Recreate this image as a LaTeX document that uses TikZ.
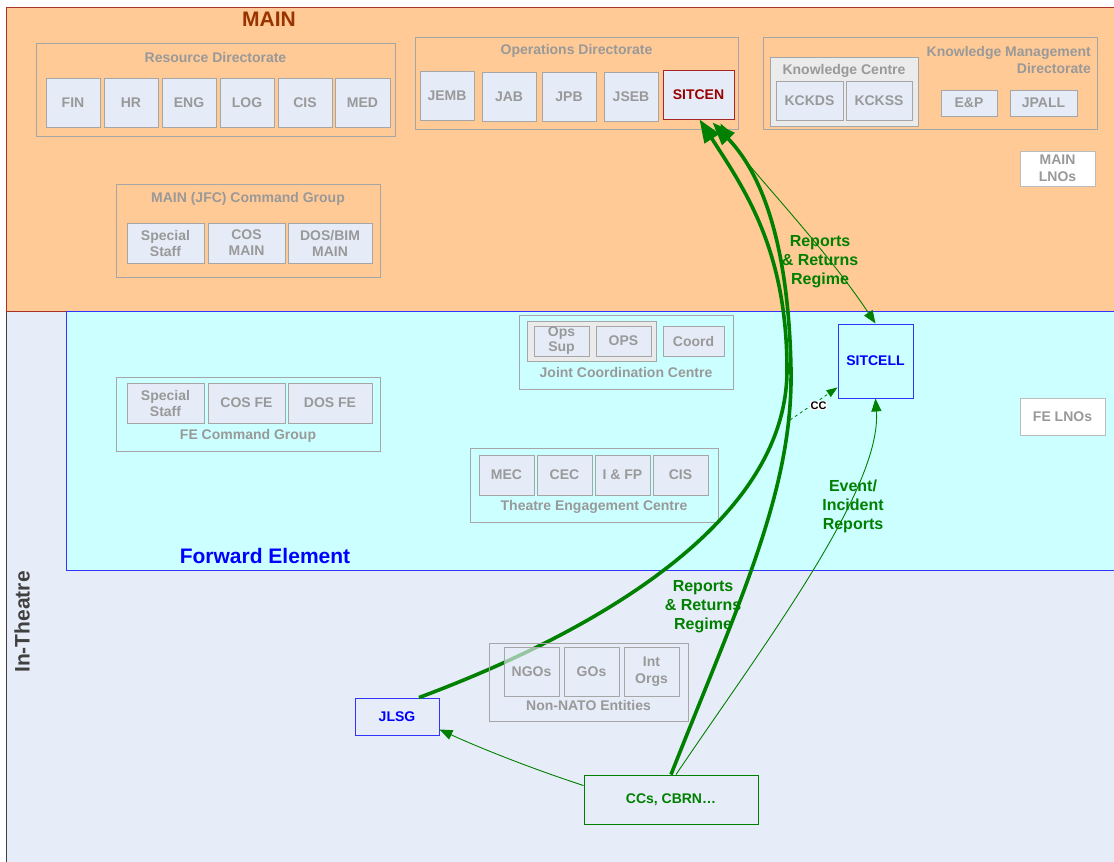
\documentclass[tikz,border=0pt]{standalone}
\usepackage{fontspec}
\setmainfont{Liberation Sans}
\usetikzlibrary{arrows.meta}

\definecolor{mainfill}{HTML}{FFCA96}
\definecolor{mainedge}{HTML}{A83226}
\definecolor{fefill}{HTML}{CCFFFF}
\definecolor{itfill}{HTML}{E7EDF8}
\definecolor{itedge}{HTML}{404040}
\definecolor{unitfill}{HTML}{E6ECF7}
\definecolor{unitedge}{HTML}{A6A6A6}
\definecolor{kcfill}{HTML}{EBEBEB}
\definecolor{greytxt}{HTML}{999999}
\definecolor{flow}{HTML}{008000}
\definecolor{maintitle}{HTML}{993300}
\definecolor{sitred}{HTML}{990000}
\definecolor{feblue}{HTML}{0000FF}

\begin{document}
\begin{tikzpicture}[x=1pt,y=-1pt,
  f14/.style={font=\bfseries\fontsize{14}{16}\selectfont},
  unit/.style={draw=unitedge, fill=unitfill, text=greytxt, f14, align=center, inner sep=0pt, line width=0.9pt},
  grp/.style={draw=unitedge, line width=0.9pt, inner sep=0pt},
  grptitle/.style={text=greytxt, f14, inner sep=0pt},
  lno/.style={unit, fill=white, draw=unitedge!75},
  hq/.style={draw=feblue!80, line width=0.9pt, text=feblue, f14, inner sep=0pt},
  flowlab/.style={text=flow, font=\bfseries\fontsize{16}{19}\selectfont, align=center, inner sep=0pt},
  bigflow/.style={draw=flow, line width=3.6pt, -{Triangle[length=23pt 0 0,width=17pt 0 0]}},
  thintip/.tip={Triangle[length=13pt 0 0,width=10pt 0 0]},
  thinflow/.style={draw=flow, line width=0.9pt, -thintip},
  region/.style={font=\bfseries\fontsize{21}{24}\selectfont, inner sep=0pt}]

\useasboundingbox (0,0) rectangle (1114,862);

% ---- regions ----
\fill[itfill] (6,311) rectangle (1120,870);
\draw[itedge, line width=1pt] (6,311) -- (6,870);
\draw[mainedge, fill=mainfill, line width=1pt] (6,7) rectangle (1120,311);
\draw[feblue!80, fill=fefill, line width=1pt] (66,311) rectangle (1120,570);

\node[region, text=maintitle] (maintitle) at (269,19) {MAIN};
\node[region, text=feblue] (fetitle) at (265,556) {Forward Element};
\node[region, text=itedge, rotate=90] (ittitle) at (22,622) {In-Theatre};

% ---- Resource Directorate ----
\node[grp, minimum width=359, minimum height=93] (resdir) at (215.5,89.5) {};
\node[grptitle] (resdirt) at (215.5,57) {Resource Directorate};
\node[unit, minimum width=54, minimum height=49] (fin) at (73,102.5) {FIN};
\node[unit, minimum width=54, minimum height=49] (hr) at (131,102.5) {HR};
\node[unit, minimum width=54, minimum height=49] (eng) at (189,102.5) {ENG};
\node[unit, minimum width=54, minimum height=49] (log) at (247,102.5) {LOG};
\node[unit, minimum width=54, minimum height=49] (cisr) at (305,102.5) {CIS};
\node[unit, minimum width=55, minimum height=49] (med) at (362.5,102.5) {MED};

% ---- MAIN (JFC) Command Group ----
\node[grp, minimum width=264, minimum height=93] (jfc) at (248,230.5) {};
\node[grptitle] (jfct) at (248,199) {MAIN (JFC) Command Group};
\node[unit, minimum width=77, minimum height=40] (spm) at (165.5,243) {Special\\Staff};
\node[unit, minimum width=77, minimum height=40] (cosm) at (246.5,243) {COS\\MAIN};
\node[unit, minimum width=84, minimum height=40] (dosm) at (330,243) {DOS/BIM\\MAIN};

% ---- Operations Directorate ----
\node[grp, minimum width=323, minimum height=92] (opsdir) at (576.5,83) {};
\node[grptitle] (opsdirt) at (576.5,51) {Operations Directorate};
\node[unit, minimum width=54, minimum height=49] (jemb) at (447,95.5) {JEMB};
\node[unit, minimum width=54, minimum height=49] (jab) at (509,96.5) {JAB};
\node[unit, minimum width=54, minimum height=49] (jpb) at (569,96.5) {JPB};
\node[unit, minimum width=54, minimum height=49] (jseb) at (631,96.5) {JSEB};
\node[unit, draw=sitred!85, text=sitred, minimum width=71, minimum height=49] (sitcen) at (698.5,94.5) {SITCEN};

% ---- Knowledge Management Directorate ----
\node[grp, minimum width=334, minimum height=92] (kmdir) at (930,83) {};
\node[grptitle, font=\bfseries\fontsize{14}{17}\selectfont, align=right, anchor=east] (kmdirt) at (1091,59.5) {Knowledge Management\\Directorate};
\node[grp, fill=kcfill, minimum width=148, minimum height=69] (kc) at (844,91.5) {};
\node[grptitle] (kct) at (844,71) {Knowledge Centre};
\node[unit, minimum width=67, minimum height=39] (kckds) at (809.5,100.5) {KCKDS};
\node[unit, minimum width=66, minimum height=39] (kckss) at (879,100.5) {KCKSS};
\node[unit, minimum width=56, minimum height=26] (ep) at (969,103) {E\&P};
\node[unit, minimum width=67, minimum height=26] (jpall) at (1043.5,103) {JPALL};

\node[lno, font=\bfseries\fontsize{14}{17}\selectfont, minimum width=75, minimum height=35] (mainlno) at (1057.5,168.5) {MAIN\\LNOs};

% ---- Joint Coordination Centre ----
\node[grp, minimum width=214, minimum height=74] (jcc) at (626,352) {};
\node[grp, fill=kcfill, minimum width=129, minimum height=40] (opsgrp) at (591.5,341) {};
\node[unit, font=\bfseries\fontsize{14}{15}\selectfont, minimum width=55, minimum height=30] (opssup) at (561.5,341) {Ops\\Sup};
\node[unit, minimum width=55, minimum height=30] (ops) at (623.5,341) {OPS};
\node[unit, minimum width=61, minimum height=30] (coord) at (693.5,341) {Coord};
\node[grptitle] (jcct) at (626,372) {Joint Coordination Centre};

% ---- FE Command Group ----
\node[grp, minimum width=264, minimum height=74] (fecg) at (248,414) {};
\node[unit, minimum width=77, minimum height=40] (spf) at (165.5,403) {Special\\Staff};
\node[unit, minimum width=77, minimum height=40] (cosf) at (246.5,403) {COS FE};
\node[unit, minimum width=84, minimum height=40] (dosf) at (330,403) {DOS FE};
\node[grptitle] (fecgt) at (248,436) {FE Command Group};

% ---- Theatre Engagement Centre ----
\node[grp, minimum width=248, minimum height=74] (tec) at (594,485) {};
\node[unit, minimum width=55, minimum height=40] (mec) at (506.5,475) {MEC};
\node[unit, minimum width=55, minimum height=40] (cec) at (564.5,475) {CEC};
\node[unit, minimum width=55, minimum height=40] (ifp) at (622.5,475) {I \& FP};
\node[unit, minimum width=55, minimum height=40] (cist) at (680.5,475) {CIS};
\node[grptitle] (tect) at (594,507) {Theatre Engagement Centre};

% ---- SITCELL, LNOs ----
\node[hq, minimum width=75, minimum height=74] (sitcell) at (875.5,361) {SITCELL};
\node[lno, minimum width=85, minimum height=37] (felno) at (1062.5,416.5) {FE LNOs};

% ---- JLSG and contributors ----
\node[hq, minimum width=84, minimum height=37] (jlsg) at (397,716.5) {JLSG};
\node[draw=flow, line width=0.9pt, text=flow, f14, inner sep=0pt, minimum width=174, minimum height=49] (ccs) at (671,799.5) {CCs, CBRN\ldots};

% ---- flow labels ----
\node[flowlab] (rrr1) at (820,262) {Reports\\\& Returns\\Regime};
\node[flowlab] (rrr2) at (703,607) {Reports\\\& Returns\\Regime};
\node[flowlab] (eir) at (853,506) {Event/\\Incident\\Reports};

% ---- reporting flows ----
\draw[bigflow] ([xshift=22pt]jlsg.north)
  .. controls (600,630) and (787,520) .. (787,370)
  .. controls (787,250) and (745,190) .. ([xshift=1pt]sitcen.south);
\draw[bigflow] (ccs.north)
  .. controls (740,600) and (793,490) .. (791,370)
  .. controls (789,260) and (768,180) .. ([xshift=14pt,yshift=-3pt]sitcen.south);
\draw[thinflow] ([xshift=5pt]ccs.north)
  .. controls (760,650) and (882,490) .. (sitcell.south);
\draw[thinflow] ([yshift=-11pt]ccs.north west)
  .. controls (530,768) and (480,748) .. ([yshift=6pt]jlsg.south east);
\draw[thinflow, thintip-thintip]
  ([xshift=22pt,yshift=-4pt]sitcen.south) .. controls (740,160) and (820,240) .. (sitcell.north);

\coordinate (ccfoot) at (790,420);
\draw[draw=flow, line width=0.8pt, dashed, -{Triangle[length=11pt 0 0,width=8pt 0 0]}]
  (ccfoot) -- ([yshift=11pt]sitcell.south west)
  node[pos=0.6, yshift=-5pt, fill=white, inner sep=1pt, text=black, font=\bfseries\fontsize{11}{12}\selectfont] (cclab) {CC};

% ---- Non-NATO Entities (semi-transparent over the flow) ----
\node[grp, minimum width=199, minimum height=78] (nne) at (588.5,682) {};
\node[unit, fill=itfill, fill opacity=0.65, text opacity=1, minimum width=55, minimum height=49] (ngo) at (531.5,671.5) {NGOs};
\node[unit, fill=itfill, fill opacity=0.65, text opacity=1, minimum width=55, minimum height=49] (gos) at (591.5,671.5) {GOs};
\node[unit, fill=itfill, fill opacity=0.65, text opacity=1, font=\bfseries\fontsize{14}{17}\selectfont, minimum width=55, minimum height=49] (intorg) at (651.5,671.5) {Int\\Orgs};
\node[grptitle] (nnet) at (588.5,705) {Non-NATO Entities};

\end{tikzpicture}
\end{document}
